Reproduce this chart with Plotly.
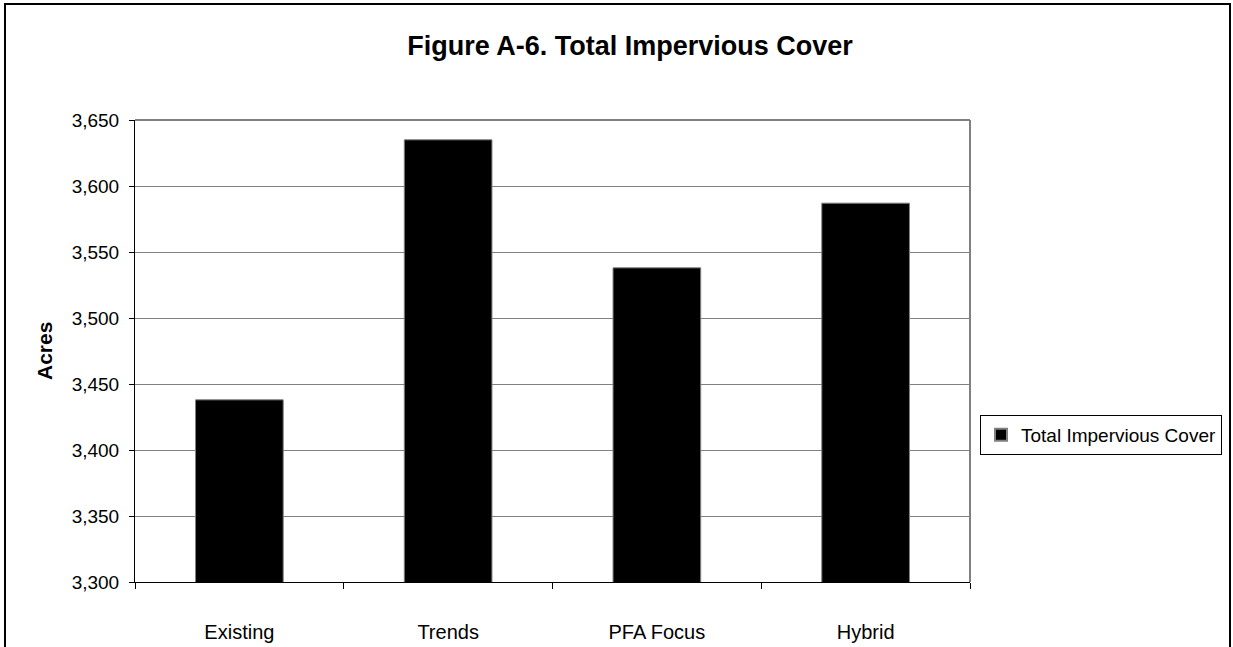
import plotly.graph_objects as go

# Scenario categories and total impervious cover (acres)
scenarios = ["Existing", "Trends", "PFA Focus", "Hybrid"]
impervious_acres = [3438, 3635, 3538, 3587]

y_ticks = [3300, 3350, 3400, 3450, 3500, 3550, 3600, 3650]
y_tick_labels = ["3,300", "3,350", "3,400", "3,450", "3,500", "3,550", "3,600", "3,650"]

W, H = 1233, 647
L, R, T, B = 135, 263, 120, 65
plot_w = W - L - R
plot_h = H - T - B


def px_x(px):
    return (px - L) / plot_w


def px_y(py):
    return (H - B - py) / plot_h


FONT = "Liberation Sans, Arial, sans-serif"

fig = go.Figure()
fig.add_trace(go.Bar(
    x=scenarios,
    y=impervious_acres,
    name="Total Impervious Cover",
    marker=dict(color="#000000", line=dict(color="#808080", width=1)),
))

fig.update_layout(
    width=W,
    height=H,
    margin=dict(l=L, r=R, t=T, b=B, pad=0, autoexpand=False),
    paper_bgcolor="white",
    plot_bgcolor="white",
    bargap=0.58,
    font=dict(family=FONT, size=19, color="#000000"),
    title=dict(
        text="<b>Figure A-6. Total Impervious Cover</b>",
        x=630 / W,
        xref="container",
        xanchor="center",
        y=1 - 46 / H,
        yref="container",
        yanchor="middle",
        font=dict(family=FONT, size=27, color="#000000"),
    ),
    showlegend=True,
    legend=dict(
        x=px_x(980),
        xanchor="left",
        y=px_y(435),
        yanchor="middle",
        bordercolor="#000000",
        borderwidth=1,
        bgcolor="white",
        font=dict(family=FONT, size=19, color="#000000"),
        itemsizing="constant",
        tracegroupgap=0,
    ),
    xaxis=dict(
        type="category",
        automargin=False,
        showgrid=False,
        showline=True,
        linecolor="#000000",
        linewidth=1,
        ticks="outside",
        tickson="boundaries",
        ticklen=6,
        tickcolor="#000000",
        tickfont=dict(family=FONT, size=20, color="#000000"),
        ticklabelstandoff=32,
        zeroline=False,
    ),
    yaxis=dict(
        range=[3300, 3650],
        automargin=False,
        tickvals=y_ticks,
        ticktext=y_tick_labels,
        showgrid=True,
        gridcolor="#808080",
        gridwidth=1,
        showline=True,
        linecolor="#000000",
        linewidth=1,
        ticks="outside",
        ticklen=5,
        tickcolor="#000000",
        tickfont=dict(family=FONT, size=19, color="#000000"),
        ticklabelstandoff=6,
        zeroline=False,
    ),
    annotations=[
        dict(
            text="<b>Acres</b>",
            textangle=-90,
            x=px_x(44),
            y=0.5,
            xref="paper",
            yref="paper",
            xanchor="center",
            yanchor="middle",
            showarrow=False,
            font=dict(family=FONT, size=21, color="#000000"),
        )
    ],
    shapes=[
        # plot-area border (top and right edges in gray)
        dict(type="line", xref="paper", yref="paper", x0=0, x1=1, y0=1, y1=1,
             line=dict(color="#808080", width=2)),
        dict(type="line", xref="paper", yref="paper", x0=1, x1=1, y0=0, y1=1,
             line=dict(color="#808080", width=2)),
        # chart frame
        dict(type="rect", xref="paper", yref="paper",
             x0=px_x(5), x1=px_x(1230), y0=px_y(H + 20), y1=px_y(4),
             line=dict(color="#000000", width=2), fillcolor="rgba(0,0,0,0)",
             layer="above"),
    ],
)

fig.write_html("out.html")
